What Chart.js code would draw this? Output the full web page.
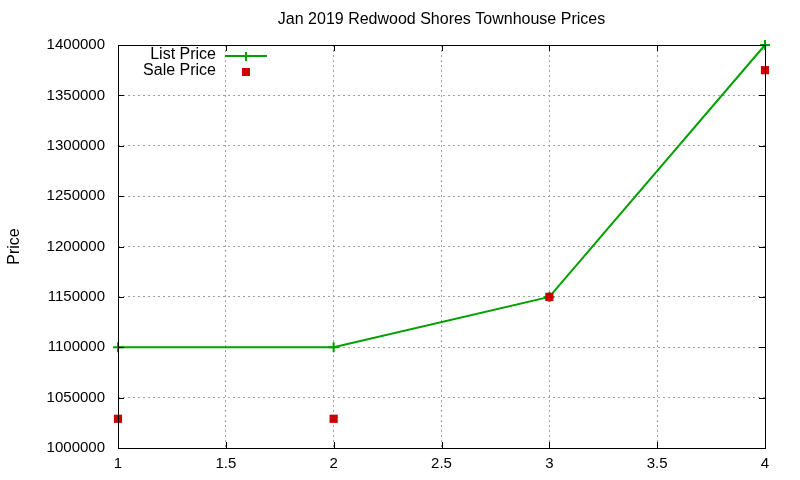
<!DOCTYPE html>
<html><head><meta charset="utf-8">
<script src="https://cdn.jsdelivr.net/npm/chart.js@4/dist/chart.umd.min.js"></script>
<style>html,body{margin:0;padding:0;background:#fff;}#wrap{width:800px;height:480px;}</style>
</head><body><div id="wrap"><canvas id="c" width="800" height="480"></canvas></div>
<script>
const titleText = "Jan 2019 Redwood Shores Townhouse Prices";
const xValues = [1, 2, 3, 4];
const listPrice = [1100000, 1100000, 1150000, 1400000];
const salePrice = [1029000, 1029000, 1150000, 1375000];
const seriesLabels = ["List Price", "Sale Price"];
const yLabel = "Price";

const FONT = "'Liberation Sans', Arial, sans-serif";

const gnuplotPlugin = {
  id: 'gnuplot',
  afterDraw(chart) {
    const ctx = chart.ctx, a = chart.chartArea;
    const xs = chart.scales.x, ys = chart.scales.y;
    ctx.save();
    ctx.strokeStyle = '#000'; ctx.lineWidth = 1;
    ctx.strokeRect(Math.round(a.left)+0.5, Math.round(a.top)+0.5, Math.round(a.right-a.left), Math.round(a.bottom-a.top));
    ctx.beginPath();
    xs.ticks.forEach(t => { const p = Math.round(xs.getPixelForValue(t.value))+0.5;
      ctx.moveTo(p, a.bottom); ctx.lineTo(p, a.bottom-6); ctx.moveTo(p, a.top); ctx.lineTo(p, a.top+6); });
    ys.ticks.forEach(t => { const p = Math.round(ys.getPixelForValue(t.value))+0.5;
      ctx.moveTo(a.left, p); ctx.lineTo(a.left+6, p); ctx.moveTo(a.right, p); ctx.lineTo(a.right-6, p); });
    ctx.stroke();
    ctx.fillStyle = '#000'; ctx.font = '16px ' + FONT; ctx.textAlign = 'center'; ctx.textBaseline = 'middle';
    ctx.fillText(titleText, (a.left + a.right)/2, 20);
    ctx.font = '16px ' + FONT; ctx.textAlign = 'right';
    ctx.fillText(seriesLabels[0], 216, 55);
    ctx.fillText(seriesLabels[1], 216, 71);
    ctx.strokeStyle = '#00a000'; ctx.lineWidth = 2;
    ctx.beginPath(); ctx.moveTo(225, 56); ctx.lineTo(267, 56);
    ctx.moveTo(246, 52); ctx.lineTo(246, 61); ctx.stroke();
    ctx.fillStyle = '#cc0000'; ctx.fillRect(242, 68, 8, 8);
    ctx.restore();
  }
};

new Chart(document.getElementById('c'), {
  type: 'scatter',
  data: {
    datasets: [
      { label: seriesLabels[0], data: xValues.map((x,i)=>({x, y: listPrice[i]})), showLine: true, order: 2, clip: false,
        borderColor: '#00a000', backgroundColor: '#00a000', borderWidth: 2,
        pointStyle: 'cross', pointRadius: 5, pointBorderWidth: 2, pointHoverRadius: 5 },
      { label: seriesLabels[1], data: xValues.map((x,i)=>({x, y: salePrice[i]})), showLine: false, order: 1, clip: false,
        borderColor: '#cc0000', backgroundColor: '#cc0000', borderWidth: 0, pointBorderWidth: 0,
        pointStyle: 'rect', pointRadius: 5.8, pointHoverRadius: 5.8 }
    ]
  },
  options: {
    responsive: false, animation: false,
    layout: { padding: { top: 45, right: 35, left: 0, bottom: 0 } },
    plugins: { legend: { display: false }, tooltip: { enabled: false }, title: { display: false } },
    scales: {
      x: { type: 'linear', min: 1, max: 4,
        ticks: { stepSize: 0.5, color: '#000', font: { family: FONT, size: 15 }, padding: 7,
          callback: v => String(v), maxRotation: 0 },
        grid: { color: '#a0a0a0', lineWidth: 1, drawTicks: false },
        border: { display: false, dash: [2,3] },
        afterFit: s => { s.height = 32; } },
      y: { type: 'linear', min: 1000000, max: 1400000,
        ticks: { stepSize: 50000, color: '#000', font: { family: FONT, size: 15 }, padding: 13,
          callback: v => String(v) },
        grid: { color: '#a0a0a0', lineWidth: 1, drawTicks: false },
        border: { display: false, dash: [2,3] },
        title: { display: true, text: yLabel, color: '#000', font: { family: FONT, size: 16 }, padding: { top: 5, bottom: 0 } },
        afterFit: s => { s.width = 118; } }
    }
  },
  plugins: [gnuplotPlugin]
});
</script></body></html>
